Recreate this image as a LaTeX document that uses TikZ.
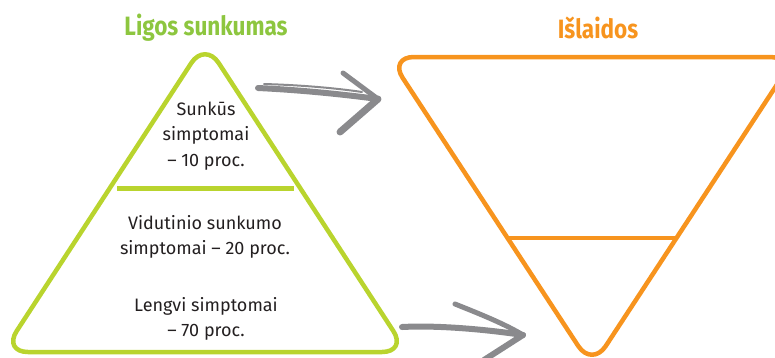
\documentclass[tikz,border=0pt]{standalone}
\usepackage{fontspec}
\setmainfont{Fira Sans}
\newfontfamily\titlefont[FakeStretch=0.85]{Fira Sans}
\definecolor{limeg}{RGB}{185,212,46}
\definecolor{titleg}{RGB}{141,198,63}
\definecolor{orng}{RGB}{247,148,30}
\definecolor{brush}{RGB}{138,138,141}
\definecolor{txt}{RGB}{35,31,32}
\begin{document}
\begin{tikzpicture}[x=1pt,y=-1pt,
  tri/.style={line width=4.5pt, rounded corners=25pt, line join=round},
  bar/.style={line width=5pt},
  body/.style={font=\fontsize{18}{25.5}\selectfont, text=txt, align=center, inner sep=0pt},
  ttl/.style={font=\titlefont\bfseries\fontsize{26.5}{30}\selectfont, inner sep=0pt},
  stroke/.style={draw=brush, line width=6pt, line cap=round, line join=round},
  thinstroke/.style={draw=brush, line width=2pt, line cap=round}]
\useasboundingbox (0,0) rectangle (775,357);
\clip (0,0) rectangle (775,357);

% titles
\node[ttl, text=titleg] (t1) at (206,28) {Ligos sunkumas};
\node[ttl, text=orng] (t2) at (598,28) {Išlaidos};

% left triangle
\draw[tri, draw=limeg] (205,352) -- (3,352) -- (205,42) -- (407,352) -- cycle;
\coordinate (gb1) at (117,188);
\coordinate (gb2) at (294,188);
\draw[bar, limeg] (gb1) -- (gb2);

% right triangle
\draw[tri, draw=orng] (592,57) -- (389,57) -- (592,367) -- (795,57) -- cycle;
\coordinate (ob1) at (507,238);
\coordinate (ob2) at (677,238);
\draw[bar, line width=4.5pt, orng] (ob1) -- (ob2);

% texts
\node[body] (s1) at (206,136) {Sunkūs\\simptomai\\– 10 proc.};
\node[body] (s2) at (205,237) {Vidutinio sunkumo\\simptomai – 20 proc.};
\node[body] (s3) at (206,319) {Lengvi simptomai\\– 70 proc.};

% top arrow
\coordinate (a1s) at (258,88);
\coordinate (a1t) at (378,99);
\coordinate (a1u) at (343,73);
\coordinate (a1l) at (340,132);
\draw[stroke] (a1s) .. controls (300,90) and (340,94) .. (a1t);
\draw[thinstroke] (264,84) .. controls (300,85) and (335,88) .. (362,92);
\draw[stroke, line width=5pt] (a1u) -- (a1t);
\draw[stroke, line width=7pt] (a1l) -- (a1t);

% bottom arrow
\coordinate (a2s) at (402,327);
\coordinate (a2t) at (523,335);
\coordinate (a2u) at (455,304);
\coordinate (a2l) at (484,360);
\draw[stroke] (a2s) .. controls (440,325) and (490,330) .. (a2t);
\draw[stroke, line width=5pt] (a2u) .. controls (480,314) and (505,324) .. (a2t);
\draw[stroke] (a2t) -- (a2l);
\end{tikzpicture}
\end{document}
